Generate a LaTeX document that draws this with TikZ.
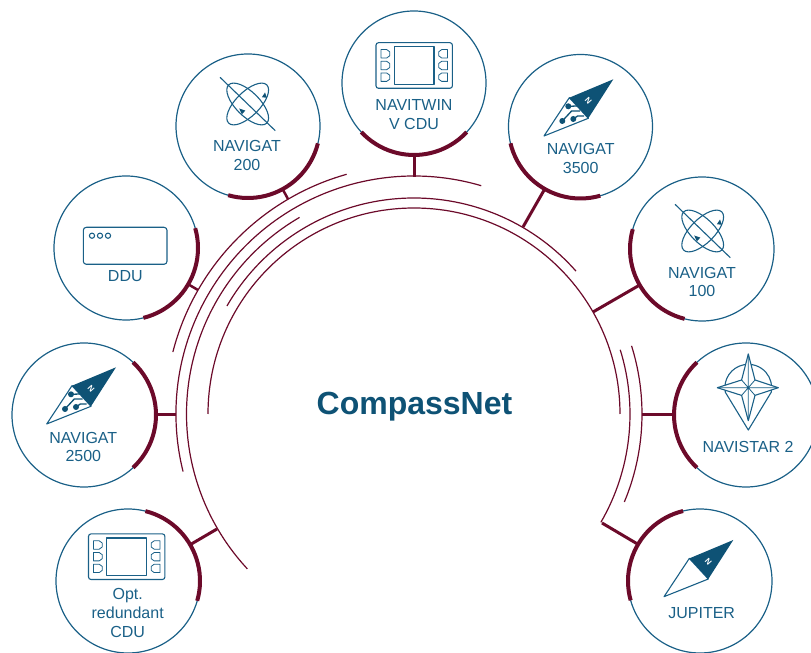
\documentclass[tikz,border=0pt]{standalone}
\usepackage{fontspec}
\setmainfont{Liberation Sans}
\definecolor{navblue}{HTML}{1A6087}
\definecolor{deepblue}{HTML}{0E5275}
\definecolor{busred}{HTML}{6C0A2A}
\newcommand\heavyarc[3]{\draw[heavy] ([shift={(#2:72pt)}]#1.center) arc[start angle=#2,end angle=#3,radius=72pt];}
\newcommand\busarc[3]{\draw[busline] ([shift={(#2:#1pt)}]hub) arc[start angle=#2,end angle=#3,radius=#1pt];}
\tikzset{
  bubble/.style={circle,draw=navblue,line width=1.2pt,minimum size=144pt,inner sep=0pt,outer sep=0pt},
  heavy/.style={draw=busred,line width=4pt},
  busline/.style={draw=busred,line width=1.2pt},
  tickline/.style={draw=busred,line width=3pt},
  lbl/.style={text=navblue,align=center,inner sep=0pt,font=\fontsize{16}{18.7}\selectfont},
  icon/.style={draw=navblue,line width=1.1pt,line join=round},
  pics/compass/.style={code={
    \draw[icon,fill=white] (-44,-18.4) -- (-69.3,-56.7) -- (-25,-39) -- cycle;
    \fill[deepblue] (0,0) -- (-44,-18.4) -- (-25,-39) -- cycle;
    \node[text=white,font=\fontsize{8}{8}\bfseries\selectfont,rotate=-48,inner sep=0pt] (-n) at (-25,-22) {N};
  }},
  pics/circuit/.style={code={
    \fill[deepblue] (-45,-27) circle[radius=3] (-40,-39.7) circle[radius=3] (-51,-41.7) circle[radius=3];
    \draw[icon,draw=deepblue,line width=1.3pt] (-45,-27) -- (-36,-26.7);
    \draw[icon,draw=deepblue,line width=1.3pt] (-51,-41.7) -- (-41.7,-31.7) -- (-33.3,-31.7);
    \draw[icon,draw=deepblue,line width=1.3pt] (-40,-39.7) -- (-35.7,-36.7) -- (-29.3,-36.7);
  }},
  pics/orbit/.style={code={
    \draw[icon] (-27.7,26.7) -- (27.6,-26.7);
    \draw[icon,rotate=45] (0,0) ellipse[x radius=27,y radius=12];
    \draw[icon,rotate=-45] (0,0) ellipse[x radius=27,y radius=12];
    \fill[deepblue] (17.3,11.5) -- (14.2,6.8) -- (19.2,6.2) -- cycle;
    \fill[deepblue] (-8.5,-4.5) -- (-2.4,-6.6) -- (-5.8,-10.4) -- cycle;
  }},
  pics/cdu/.style={code={
    \draw[icon,rounded corners=2.5] (-38.2,-22.8) rectangle (38.2,22.8);
    \draw[icon] (-19.8,-18.7) rectangle (19.8,18.7);
    \foreach \yy in {-11.7,0,11.7}{
      \draw[icon,line width=.8pt] (-33.3,\yy-4.2) -- (-27.5,\yy-4.2) -- (-24.5,\yy-2) -- (-24.5,\yy+2) -- (-27.5,\yy+4.2) -- (-33.3,\yy+4.2) -- cycle;
      \draw[icon,line width=.8pt] (33.3,\yy-4.2) -- (27.5,\yy-4.2) -- (24.5,\yy-2) -- (24.5,\yy+2) -- (27.5,\yy+4.2) -- (33.3,\yy+4.2) -- cycle;
    }
  }},
  pics/starmark/.style={code={
    \draw[icon] (-23,-4.5) arc[start angle=191,end angle=-11,radius=23.4] -- (0,-42.3) -- cycle;
    \draw[icon,fill=white] (0,33.7) -- (6.7,7.7) -- (30,0) -- (6.7,-7.7) -- (0,-33) -- (-6.7,-7.7) -- (-31,0) -- (-6.7,7.7) -- cycle;
    \draw[icon,line width=.8pt] (0,33.7) -- (0,-33) (-31,0) -- (30,0) (-6.7,7.7) -- (6.7,-7.7) (6.7,7.7) -- (-6.7,-7.7);
  }}
}
\begin{document}
\begin{tikzpicture}[x=1pt,y=1pt]
\clip (0,0) rectangle (811,653);
\useasboundingbox (0,0) rectangle (811,653);
\coordinate (hub) at (414,239);
% bus arcs
\busarc{249}{165.6}{105.7}
\busarc{238}{194}{73.6}
\busarc{227.5}{222.9}{120.2}
\busarc{216}{150}{41.4}
\busarc{206}{180}{0}
\busarc{228}{17.4}{-22.7}
\busarc{216}{17.3}{-30.1}
% bubbles
\node[bubble] (twin) at (414,570) {};
\node[bubble] (n3500) at (580.5,526.5) {};
\node[bubble] (n200) at (248,527) {};
\node[bubble] (ddu) at (126,405) {};
\node[bubble] (n100) at (702,404) {};
\node[bubble] (star) at (746,238) {};
\node[bubble] (jup) at (700,72) {};
\node[bubble] (n2500) at (84,238) {};
\node[bubble] (opt) at (128,72) {};
% bus tap points
\coordinate (ttwin) at (414,476);
\coordinate (t3500) at (523,426);
\coordinate (t200) at (288,454);
\coordinate (tddu) at (198,363);
\coordinate (t100) at (593,341);
\coordinate (tstar) at (642,238);
\coordinate (tjup) at (602,130);
\coordinate (t2500) at (176,238);
\coordinate (topt) at (217,124);
% connectors
\draw[tickline] (ttwin) -- (twin);
\draw[tickline] (t3500) -- (n3500);
\draw[tickline,line width=2.5pt] (t200) -- (n200);
\draw[tickline,line width=2.5pt] (tddu) -- (ddu);
\draw[tickline] (t100) -- (n100);
\draw[tickline] (tstar) -- (star);
\draw[tickline] (tjup) -- (jup);
\draw[tickline] (t2500) -- (n2500);
\draw[tickline] (topt) -- (opt);
% heavy arcs
\heavyarc{twin}{223}{317}
\heavyarc{n3500}{193.5}{286}
\heavyarc{n200}{254}{346}
\heavyarc{ddu}{-76}{16}
\heavyarc{n100}{164}{256}
\heavyarc{star}{133}{227}
\heavyarc{jup}{103.6}{195.6}
\heavyarc{n2500}{-47}{47}
\heavyarc{opt}{-16}{76}
% icons
\pic (icdu1) at (414.2,587.5) {cdu};
\pic (icdu2) at (126.7,96.3) {cdu};
\pic (ic1) at (613.3,573.7) {compass};
\pic (ic1c) at (613.3,573.7) {circuit};
\pic (ic2) at (116,285.7) {compass};
\pic (ic2c) at (116,285.7) {circuit};
\pic (ic3) at (733.3,113) {compass};
\pic (io1) at (247.7,549) {orbit};
\pic (io2) at (702.7,422) {orbit};
\pic (is1) at (748.3,265.3) {starmark};
\draw[icon,rounded corners=3] (83.3,388.7) rectangle (167,425.7);
\draw[icon] (92,417.3) circle[radius=2.6] (100,417.3) circle[radius=2.6] (108,417.3) circle[radius=2.6];
% labels
\node[lbl] (ltwin) at (414,538.5) {NAVITWIN\\V CDU};
\node[lbl] (l3500) at (580.7,494.7) {NAVIGAT\\3500};
\node[lbl] (l200) at (247,497.5) {NAVIGAT\\200};
\node[lbl] (l100) at (702,371) {NAVIGAT\\100};
\node[lbl] (lddu) at (125.3,377) {DDU};
\node[lbl] (lstar) at (748,206) {NAVISTAR 2};
\node[lbl] (ljup) at (701.7,40.3) {JUPITER};
\node[lbl] (l2500) at (83.3,206) {NAVIGAT\\2500};
\node[lbl] (lopt) at (127.7,40) {Opt.\\redundant\\CDU};
\node[text=deepblue,inner sep=0pt,font=\fontsize{32}{32}\bfseries\selectfont] (title) at (414.5,246) {CompassNet};
\end{tikzpicture}
\end{document}
